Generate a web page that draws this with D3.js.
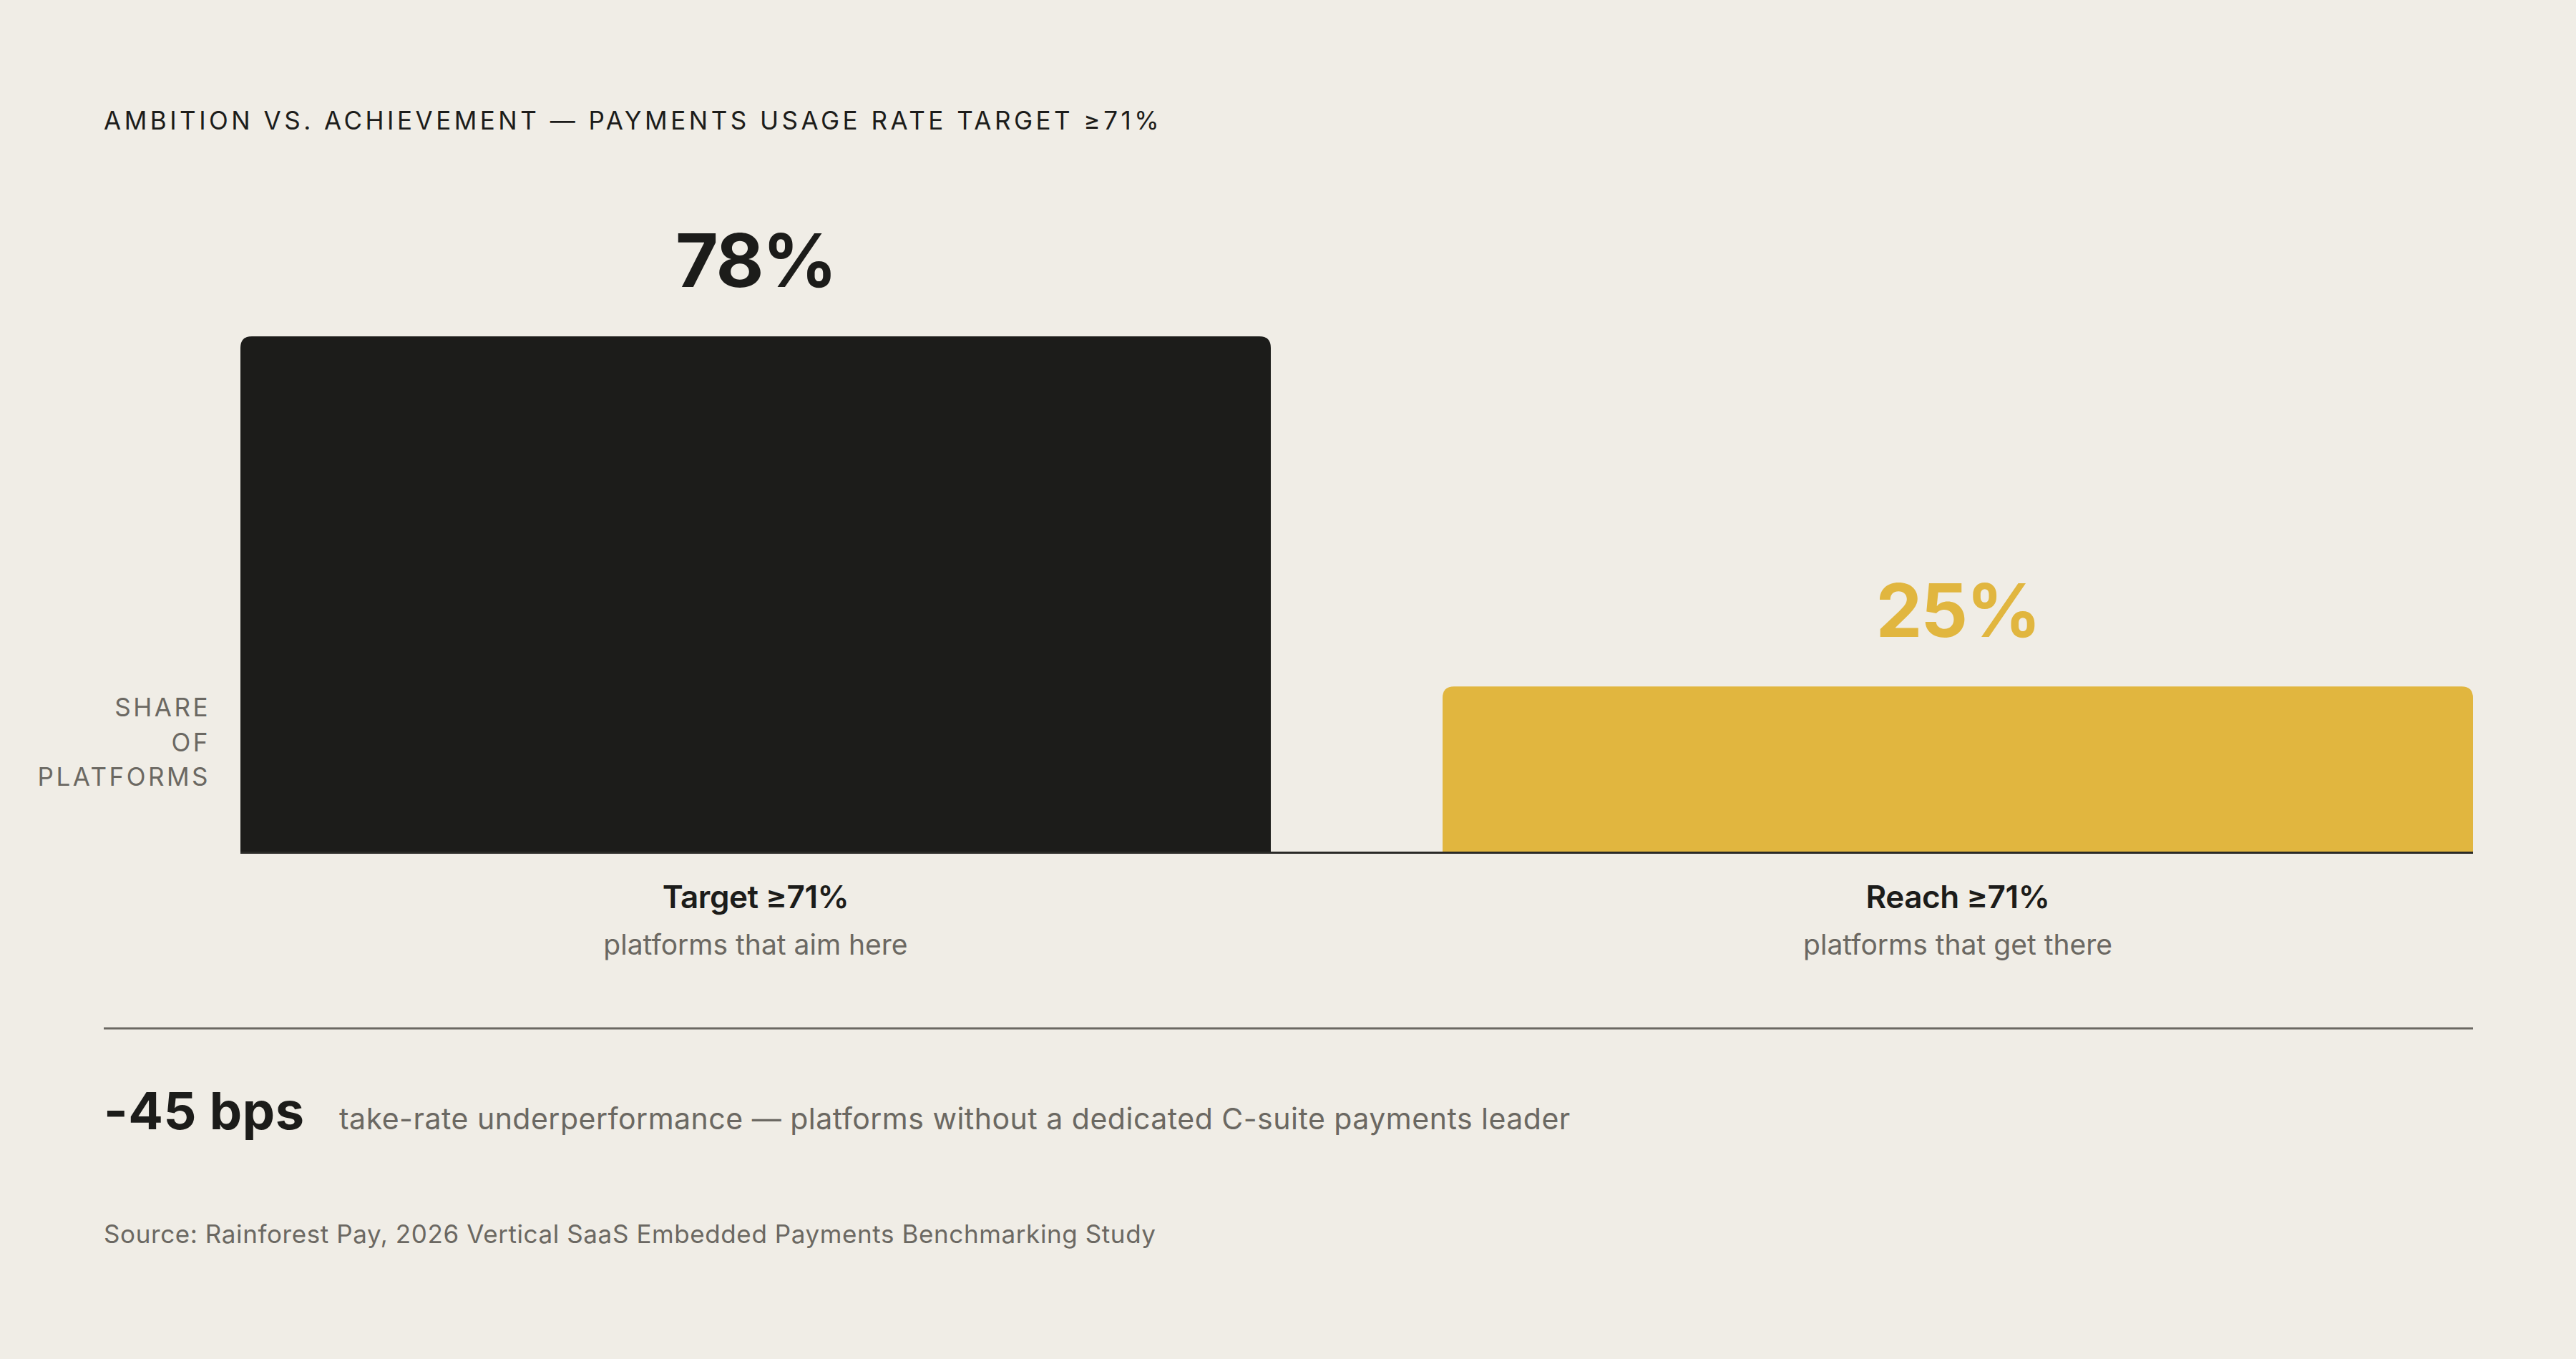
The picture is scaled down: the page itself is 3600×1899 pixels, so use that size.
<!DOCTYPE html>
<html lang="en">
<head>
    <meta charset="utf-8" />
    <style>
        body {margin:0; background:#f0ede6;}
        svg {display:block; font-family: Inter, "DejaVu Sans", sans-serif;}
    </style>
    <script src="https://d3js.org/d3.v7.min.js"></script>
</head>
<body>
    <svg></svg>
</body>
<script>
    var width = 3600,
        height = 1899;

    // data
    var categories = ["Target ≥71%", "Reach ≥71%"];
    var subLabels = ["platforms that aim here", "platforms that get there"];
    var values = [78, 25];
    var valueLabels = ["78%", "25%"];
    var title = "AMBITION VS. ACHIEVEMENT — PAYMENTS USAGE RATE TARGET ≥71%";
    var yLabel = ["SHARE", "OF", "PLATFORMS"];
    var calloutValue = "-45 bps";
    var calloutText = "take-rate underperformance — platforms without a dedicated C-suite payments leader";
    var source = "Source: Rainforest Pay, 2026 Vertical SaaS Embedded Payments Benchmarking Study";

    var ink = "#1c1c1a",
        grey = "#6b6862",
        gold = "#e1b63f";

    var color = d3.scaleOrdinal().domain(categories).range([ink, gold]);

    var x = d3.scaleBand()
        .domain(categories)
        .range([336, 3456])
        .paddingInner(0.1429)
        .paddingOuter(0);

    var y = d3.scaleLinear()
        .domain([0, 100])
        .range([1190, 267]);

    var svg = d3.select("svg")
        .attr("width", width)
        .attr("height", height)

    svg.append("rect")
        .attr("width", width)
        .attr("height", height)
        .attr("fill", "#f0ede6")

    svg.append("text")
        .attr("x", 145)
        .attr("y", 181)
        .attr("font-size", 35)
        .attr("letter-spacing", "4.5px")
        .attr("fill", ink)
        .text(title)

    // bars with rounded tops
    function topRounded(x0, y0, w, h, r) {
        r = Math.min(r, h, w / 2);
        return "M" + x0 + "," + (y0 + h)
            + "V" + (y0 + r)
            + "Q" + x0 + "," + y0 + " " + (x0 + r) + "," + y0
            + "H" + (x0 + w - r)
            + "Q" + (x0 + w) + "," + y0 + " " + (x0 + w) + "," + (y0 + r)
            + "V" + (y0 + h) + "Z";
    }

    svg.append("g").selectAll("path")
        .data(values)
      .enter().append("path")
        .attr("d", function(d, i) {
            return topRounded(x(categories[i]), y(d), x.bandwidth(), y(0) - y(d), 16)
        })
        .attr("fill", function(d, i) {return color(categories[i])})

    svg.append("g").selectAll("text")
        .data(values)
      .enter().append("text")
        .attr("x", function(d, i) {return x(categories[i]) + x.bandwidth() / 2})
        .attr("y", function(d) {return y(d) - 69})
        .attr("text-anchor", "middle")
        .attr("font-size", 103)
        .attr("font-weight", 700)
        .attr("letter-spacing", "-0.02em")
        .attr("fill", function(d, i) {return color(categories[i])})
        .text(function(d, i) {return valueLabels[i]})

    // baseline
    svg.append("line")
        .attr("x1", x.range()[0])
        .attr("x2", x.range()[1])
        .attr("y1", y(0) + 1.5)
        .attr("y2", y(0) + 1.5)
        .attr("stroke", "#2a2a27")
        .attr("stroke-width", 3)

    var cats = svg.append("g").selectAll("g")
        .data(categories)
      .enter().append("g")
        .attr("transform", function(d) {return "translate(" + (x(d) + x.bandwidth() / 2) + ",0)"})

    cats.append("text")
        .attr("y", 1269)
        .attr("text-anchor", "middle")
        .attr("font-size", 44)
        .attr("font-weight", 600)
        .attr("letter-spacing", "-0.01em")
        .attr("fill", ink)
        .text(function(d) {return d})

    cats.append("text")
        .attr("y", 1334)
        .attr("text-anchor", "middle")
        .attr("font-size", 39)
        .attr("fill", grey)
        .text(function(d, i) {return subLabels[i]})

    svg.append("g").selectAll("text")
        .data(yLabel)
      .enter().append("text")
        .attr("x", 294)
        .attr("y", function(d, i) {return 1001 + i * 48.5})
        .attr("text-anchor", "end")
        .attr("font-size", 35)
        .attr("letter-spacing", "0.1em")
        .attr("fill", grey)
        .text(function(d) {return d})

    // divider
    svg.append("line")
        .attr("x1", 145)
        .attr("x2", 3456)
        .attr("y1", 1437)
        .attr("y2", 1437)
        .attr("stroke", grey)
        .attr("stroke-width", 3)

    svg.append("text")
        .attr("x", 145)
        .attr("y", 1578)
        .attr("font-size", 72)
        .attr("font-weight", 700)
        .attr("letter-spacing", "0.6px")
        .attr("fill", ink)
        .text(calloutValue)

    svg.append("text")
        .attr("x", 474)
        .attr("y", 1578)
        .attr("font-size", 41)
        .attr("letter-spacing", "0.5px")
        .attr("fill", grey)
        .text(calloutText)

    svg.append("text")
        .attr("x", 145)
        .attr("y", 1737)
        .attr("font-size", 35)
        .attr("letter-spacing", "0.6px")
        .attr("fill", grey)
        .text(source)
</script>
</html>
